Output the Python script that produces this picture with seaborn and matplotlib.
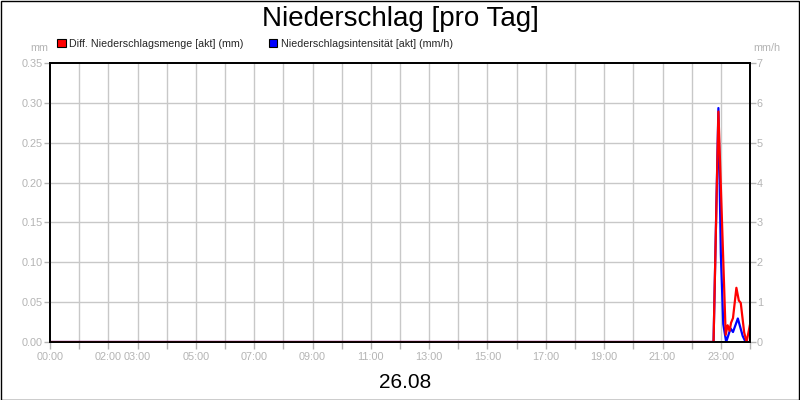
import matplotlib
matplotlib.use("Agg")
import matplotlib.pyplot as plt
import seaborn as sns
import pandas as pd
from matplotlib.patches import Patch, Rectangle

# ---- data ----
red_times = ["00:00", "22:45", "22:55", "23:10", "23:14", "23:18", "23:21", "23:25",
             "23:32", "23:37", "23:41", "23:48", "23:53", "24:00"]
red_values = [0.0, 0.0, 0.289, 0.009, 0.021, 0.014, 0.024, 0.030,
              0.068, 0.052, 0.049, 0.012, 0.0, 0.022]

blue_times = ["00:00", "22:45", "22:55", "23:00", "23:05", "23:11", "23:20", "23:25",
              "23:35", "23:45", "23:51", "24:00"]
blue_values = [0.0, 0.0, 5.87, 2.2, 0.45, 0.0, 0.34, 0.25,
               0.59, 0.15, 0.0, 0.0]

x_tick_labels = {0: "00:00", 2: "02:00", 3: "03:00", 5: "05:00", 7: "07:00", 9: "09:00",
                 11: "11:00", 13: "13:00", 15: "15:00", 17: "17:00", 19: "19:00",
                 21: "21:00", 23: "23:00"}
left_ticks = [0.00, 0.05, 0.10, 0.15, 0.20, 0.25, 0.30, 0.35]
right_ticks = [0, 1, 2, 3, 4, 5, 6, 7]

title = "Niederschlag [pro Tag]"
date_label = "26.08"
red_name = "Diff. Niederschlagsmenge [akt] (mm)"
blue_name = "Niederschlagsintensität [akt] (mm/h)"


def to_hours(s):
    h, m = s.split(":")
    return int(h) + int(m) / 60.0


red_df = pd.DataFrame({"t": [to_hours(s) for s in red_times], "v": red_values})
blue_df = pd.DataFrame({"t": [to_hours(s) for s in blue_times], "v": blue_values})

# ---- style ----
sns.set_theme(style="white")
plt.rcParams["font.family"] = ["Liberation Sans", "DejaVu Sans"]

W, H = 800, 400
fig = plt.figure(figsize=(8, 4), dpi=100, facecolor="white")
L, R, T, B = 50, 750, 63, 342
ax = fig.add_axes([L / W, 1 - B / H, (R - L) / W, (B - T) / H])
ax2 = ax.twinx()

grid_c = "#c8c8c8"
tick_c = "#b4b4b4"

# blue on the right axis (below), red on left axis (on top)
sns.lineplot(data=blue_df, x="t", y="v", ax=ax2, color="#0000ff", linewidth=1.6,
             estimator=None, sort=False)
sns.lineplot(data=red_df, x="t", y="v", ax=ax, color="#ff0000", linewidth=1.6,
             estimator=None, sort=False)

ax.set_zorder(ax2.get_zorder() + 1)
ax.patch.set_visible(False)

ax.set_xlim(0, 24)
ax.set_ylim(0, 0.35)
ax2.set_ylim(0, 7)

ax.set_xticks(range(0, 25))
ax.set_xticklabels([x_tick_labels.get(h, "") for h in range(0, 25)])
ax.set_yticks(left_ticks)
ax.set_yticklabels([f"{v:.2f}" for v in left_ticks])
ax2.set_yticks(right_ticks)
ax2.set_yticklabels([str(v) for v in right_ticks])

ax.set_xlabel("")
ax.set_ylabel("")
ax2.set_ylabel("")

# grid on the lower axis
ax.grid(False)
ax2.grid(False)
for h in range(1, 24):
    ax2.axvline(h, color=grid_c, linewidth=1.0, zorder=0)
for v in right_ticks[1:-1]:
    ax2.axhline(v, color=grid_c, linewidth=1.0, zorder=0)

for a in (ax, ax2):
    for s in a.spines.values():
        s.set_color("black")
        s.set_linewidth(1.3)
        s.set_visible(True)

ax.tick_params(axis="x", colors=tick_c, labelcolor=tick_c, labelsize=7.8,
               length=5, width=1, direction="out", pad=2, bottom=True)
ax.tick_params(axis="y", colors=tick_c, labelcolor=tick_c, labelsize=7.8,
               length=4, width=1, direction="out", pad=1, left=True)
ax2.tick_params(axis="y", colors=tick_c, labelcolor=tick_c, labelsize=7.8,
                length=4, width=1, direction="out", pad=1, right=True)

# texts
fig.text(400 / W, 1 - 19 / H, title, ha="center", va="center", fontsize=20, color="black")
fig.text(405 / W, 1 - 382 / H, date_label, ha="center", va="center", fontsize=15, color="black")
fig.text(48 / W, 1 - 48 / H, "mm", ha="right", va="center", fontsize=7.8, color=tick_c)
fig.text(753 / W, 1 - 48 / H, "mm/h", ha="left", va="center", fontsize=7.8, color=tick_c)

handles = [Patch(facecolor="#ff0000", edgecolor="black", linewidth=0.8, label=red_name),
           Patch(facecolor="#0000ff", edgecolor="black", linewidth=0.8, label=blue_name)]
fig.legend(handles=handles, loc="center left", bbox_to_anchor=(57 / W, 1 - 44 / H),
           ncol=2, frameon=False, fontsize=7.7, handlelength=0.8, handleheight=0.8,
           handletextpad=0.3, columnspacing=2.4, borderpad=0, borderaxespad=0)

# outer border
fig.patches.append(Rectangle((0.5 / W, 0.5 / H), 1 - 1.5 / W, 1 - 1.5 / H,
                             transform=fig.transFigure, fill=False,
                             edgecolor="black", linewidth=1.0))

fig.savefig("out.png", dpi=100, facecolor="white")
